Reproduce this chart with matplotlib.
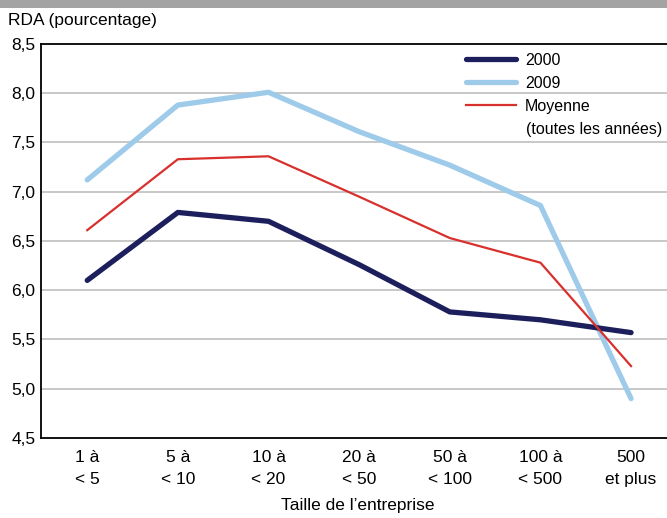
import matplotlib.pyplot as plt
from matplotlib.patches import Rectangle

# Data
categories = ['1 à\n< 5', '5 à\n< 10', '10 à\n< 20', '20 à\n< 50', '50 à\n< 100', '100 à\n< 500', '500\net plus']
rda_2000 = [6.10, 6.79, 6.70, 6.26, 5.78, 5.70, 5.57]
rda_2009 = [7.12, 7.88, 8.01, 7.61, 7.27, 6.86, 4.90]
rda_moyenne = [6.61, 7.33, 7.36, 6.95, 6.53, 6.28, 5.23]
y_ticks = [4.5, 5.0, 5.5, 6.0, 6.5, 7.0, 7.5, 8.0, 8.5]

plt.rcParams['font.family'] = ['Liberation Sans', 'DejaVu Sans']

W, H = 667, 518
fig = plt.figure(figsize=(W / 100, H / 100), dpi=100)
ax = fig.add_axes([41 / W, 1 - 438 / H, 1 - 41 / W + 0.01, (438 - 44) / H])

# grey band of the cut-off title at the very top
fig.patches.append(Rectangle((0, 1 - 8 / H), 1, 8 / H, transform=fig.transFigure,
                             facecolor='#a3a3a3', edgecolor='none'))

x = list(range(len(categories)))
ax.plot(x, rda_2000, color='#1c1f5c', lw=3.8, solid_capstyle='round', label='2000', zorder=3)
ax.plot(x, rda_2009, color='#9fcbea', lw=3.8, solid_capstyle='round', label='2009', zorder=2)
ax.plot(x, rda_moyenne, color='#d8302c', lw=1.6, label='Moyenne', zorder=4)

ax.set_ylim(4.5, 8.5)
ax.set_xlim(-0.51, 6.47)
ax.set_yticks(y_ticks)
ax.set_yticklabels([f'{v:.1f}'.replace('.', ',') for v in y_ticks], fontsize=12.5)
ax.set_xticks(x)
ax.set_xticklabels(categories, fontsize=12.5, linespacing=1.55)
ax.tick_params(length=0)
ax.tick_params(axis='y', pad=4)
ax.tick_params(axis='x', pad=9)

for v in y_ticks[1:-1]:
    ax.axhline(v, color='#c8c8c8', lw=1.4, zorder=1)

for s in ['left', 'bottom', 'top']:
    ax.spines[s].set_color('black')
    ax.spines[s].set_linewidth(1.3)
ax.spines['right'].set_visible(False)

ax.set_xlabel("Taille de l\u2019entreprise", fontsize=12.5, labelpad=8)
fig.text(8 / W, 1 - 20 / H, 'RDA (pourcentage)', fontsize=12.5, va='center', ha='left')

leg = ax.legend(loc='upper left', bbox_to_anchor=(466 / W, 1 - 53 / H), bbox_transform=fig.transFigure,
                frameon=False, fontsize=11.5, handlelength=3.1, handletextpad=0.6,
                labelspacing=0.5, borderaxespad=0, borderpad=0)
fig.text(526 / W, 1 - 129 / H, '(toutes les années)', fontsize=11.5, va='center', ha='left')

fig.savefig('out.png', dpi=100)
